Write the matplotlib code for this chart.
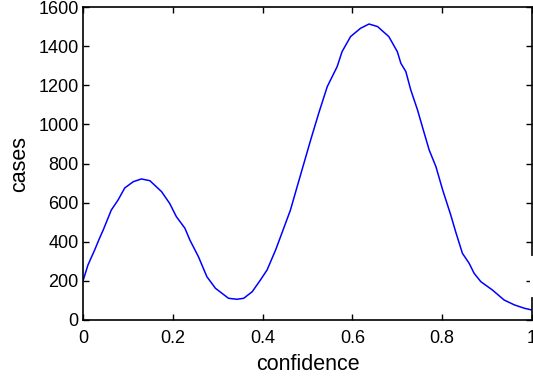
import matplotlib
matplotlib.use("Agg")
import matplotlib.pyplot as plt

# values
confidence = [0.0, 0.011, 0.026, 0.037, 0.045, 0.063, 0.078, 0.093, 0.112, 0.130,
              0.149, 0.175, 0.193, 0.208, 0.227, 0.238, 0.257, 0.276, 0.295, 0.324,
              0.343, 0.358, 0.377, 0.395, 0.410, 0.429, 0.447, 0.462, 0.477, 0.492,
              0.507, 0.525, 0.544, 0.566, 0.577, 0.596, 0.618, 0.637, 0.656, 0.681,
              0.700, 0.708, 0.719, 0.730, 0.745, 0.760, 0.771, 0.786, 0.801, 0.819,
              0.830, 0.845, 0.860, 0.871, 0.886, 0.912, 0.938, 0.961, 0.983, 1.0]
cases = [200, 281, 358, 419, 460, 562, 613, 675, 707, 721,
         712, 656, 596, 528, 469, 409, 324, 221, 162, 111,
         106, 111, 145, 204, 256, 358, 469, 562, 682, 801,
         920, 1057, 1193, 1295, 1372, 1449, 1491, 1513, 1500, 1449,
         1372, 1312, 1270, 1176, 1074, 955, 869, 784, 665, 537,
         451, 341, 290, 239, 196, 153, 102, 77, 60, 51]

xticks = [0, 0.2, 0.4, 0.6, 0.8, 1]
xticklabels = ['0', '0.2', '0.4', '0.6', '0.8', '1']
yticks = [0, 200, 400, 600, 800, 1000, 1200, 1400, 1600]

plt.rcParams['font.family'] = ['Liberation Sans', 'DejaVu Sans']

fig = plt.figure(figsize=(5.33, 3.78), dpi=100)
ax = fig.add_axes([83 / 533, 58 / 378, 449 / 533, 313 / 378])

ax.plot(confidence, cases, color='#0000ff', linewidth=1.1)

ax.set_xlim(0, 1)
ax.set_ylim(0, 1600)
ax.set_xticks(xticks)
ax.set_xticklabels(xticklabels)
ax.set_yticks(yticks)
ax.tick_params(direction='in', length=4, width=1, labelsize=13,
               top=True, right=True)
ax.tick_params(axis='x', pad=7)
ax.tick_params(axis='y', pad=3)
for s in ax.spines.values():
    s.set_linewidth(1.2)

ax.set_xlabel('confidence', fontsize=15.5, labelpad=5)
ax.set_ylabel('cases', fontsize=15.5, labelpad=6)

# small gap in the right border, as in the reference
ax.plot([1, 1], [128, 317], color='white', linewidth=3, clip_on=False, zorder=5)

fig.savefig('out.png', dpi=100)
